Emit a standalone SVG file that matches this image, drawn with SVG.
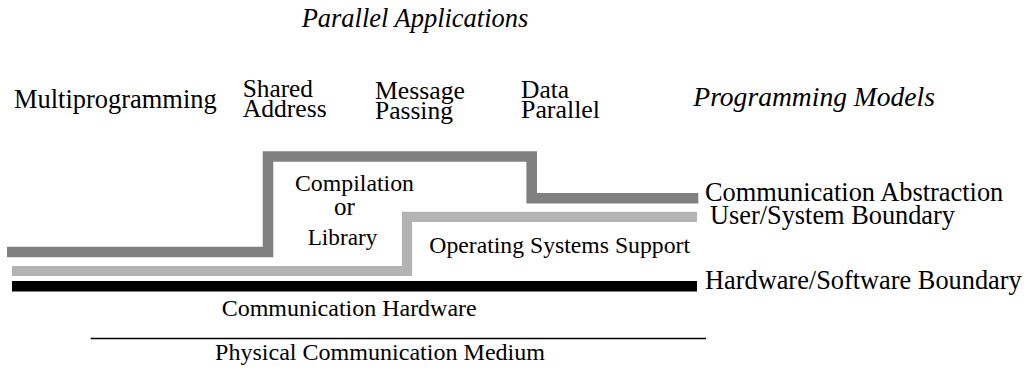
<svg xmlns="http://www.w3.org/2000/svg" width="1027" height="368" viewBox="0 0 1027 368">
<style>
  text { font-family: "Liberation Serif", "Times New Roman", serif; fill: #000; }
  .it { font-style: italic; }
  .big { font-size: 26.4px; }
  .mid { font-size: 25.5px; }
  .small { font-size: 24px; }
  .band { fill: none; stroke-linejoin: miter; stroke-linecap: butt; }
  .dark { stroke: #808080; stroke-width: 10.6; }
  .light { stroke: #b3b3b3; stroke-width: 10.2; }
  .black { stroke: #000; stroke-width: 10.6; }
</style>
<rect width="1027" height="368" fill="#fff"/>
<g id="connectors">
  <polyline class="band dark" points="7,252 268,252 268,156.5 531.7,156.5 531.7,198.3 698.3,198.3"/>
  <polyline class="band light" points="12,271 407,271 407,216.8 697,216.8"/>
  <line class="band black" x1="12" y1="286.2" x2="697" y2="286.2"/>
  <line x1="90.7" y1="338.5" x2="706" y2="338.5" stroke="#000" stroke-width="1.3"/>
</g>
<g id="parallel-applications"><text class="it big" x="301.7" y="27" textLength="226.6" lengthAdjust="spacingAndGlyphs">Parallel Applications</text></g>
<g id="multiprogramming"><text class="big" x="14" y="108" textLength="202.7" lengthAdjust="spacingAndGlyphs">Multiprogramming</text></g>
<g id="shared-address">
  <text class="mid"><tspan x="242.7" y="97" textLength="70.3" lengthAdjust="spacingAndGlyphs">Shared</tspan><tspan x="242.7" y="117" textLength="84" lengthAdjust="spacingAndGlyphs">Address</tspan></text>
</g>
<g id="message-passing">
  <text class="mid"><tspan x="375" y="98.5" textLength="90" lengthAdjust="spacingAndGlyphs">Message</tspan><tspan x="375" y="118.5">Passing</tspan></text>
</g>
<g id="data-parallel">
  <text class="mid"><tspan x="521" y="97.5">Data</tspan><tspan x="521" y="117.5" textLength="79" lengthAdjust="spacingAndGlyphs">Parallel</tspan></text>
</g>
<g id="programming-models"><text class="it big" x="693.3" y="106" textLength="241.7" lengthAdjust="spacingAndGlyphs">Programming Models</text></g>
<g id="compilation-library">
  <text class="small"><tspan x="295" y="190.5" textLength="119" lengthAdjust="spacingAndGlyphs">Compilation</tspan><tspan x="344.5" y="215" text-anchor="middle" font-size="25">or</tspan><tspan x="307.7" y="245" textLength="69.6" lengthAdjust="spacingAndGlyphs">Library</tspan></text>
</g>
<g id="communication-abstraction"><text class="big" x="705" y="200.5" textLength="298.3" lengthAdjust="spacingAndGlyphs">Communication Abstraction</text></g>
<g id="user-system-boundary"><text class="big" x="710" y="224" textLength="245" lengthAdjust="spacingAndGlyphs">User/System Boundary</text></g>
<g id="operating-systems-support"><text class="small" x="429.3" y="252.5" textLength="260.7" lengthAdjust="spacingAndGlyphs">Operating Systems Support</text></g>
<g id="hardware-software-boundary"><text class="big" x="705" y="288.5" textLength="316.7" lengthAdjust="spacingAndGlyphs">Hardware/Software Boundary</text></g>
<g id="communication-hardware"><text class="small" x="221.7" y="316" textLength="255" lengthAdjust="spacingAndGlyphs">Communication Hardware</text></g>
<g id="physical-medium"><text class="small" x="215" y="360" textLength="330" lengthAdjust="spacingAndGlyphs">Physical Communication Medium</text></g>
</svg>
